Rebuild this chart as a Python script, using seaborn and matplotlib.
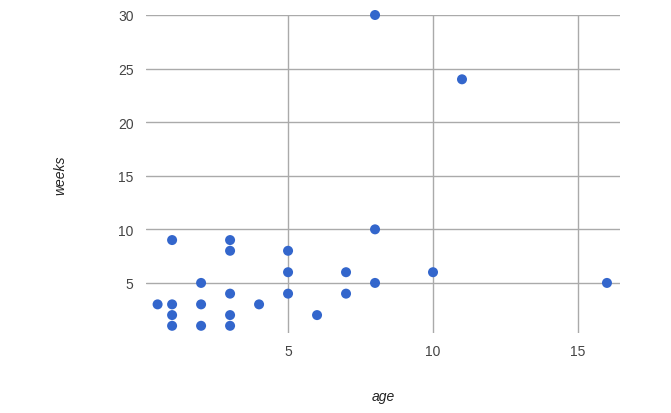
import matplotlib
matplotlib.use("Agg")
import matplotlib.pyplot as plt
import seaborn as sns
import pandas as pd

age = [1, 3, 3, 5, 5, 2, 3, 5, 0.5, 1, 2, 4, 1, 3, 6, 1, 2, 3,
       8, 7, 10, 8, 16, 7, 8, 11]
weeks = [9, 9, 8, 8, 6, 5, 4, 4, 3, 3, 3, 3, 2, 2, 2, 1, 1, 1,
         10, 6, 6, 5, 5, 4, 30, 24]
x_ticks = [5, 10, 15]
y_ticks = [5, 10, 15, 20, 25, 30]

df = pd.DataFrame({"age": age, "weeks": weeks})

sns.set_theme(style="white")
plt.rcParams['font.family'] = ['Liberation Sans', 'DejaVu Sans']

fig = plt.figure(figsize=(6.71, 4.14), dpi=100)
ax = fig.add_axes([146/671, 1-334.3/414, (620-146)/671, (334.3-16)/414])

sns.scatterplot(data=df, x="age", y="weeks", ax=ax, s=52, color="#3366cc",
                edgecolor="none", zorder=3, clip_on=False)

ax.set_xlim(0.1, 16.45)
ax.set_ylim(0.3, 30)
ax.set_xticks(x_ticks)
ax.set_yticks(y_ticks)
ax.grid(True, color="#aaaaaa", linewidth=1)
ax.set_axisbelow(True)
for s in ax.spines.values():
    s.set_visible(False)
ax.tick_params(axis="both", length=0, labelsize=10, labelcolor="#444444")
ax.tick_params(axis="y", pad=9)
ax.tick_params(axis="x", pad=8)

ax.set_xlabel("age", fontstyle="italic", fontsize=10, color="#222222")
ax.set_ylabel("weeks", fontstyle="italic", fontsize=10, color="#222222")
ax.xaxis.set_label_coords(0.5, -(397-334.3)/318.3)
ax.yaxis.set_label_coords(-(146-60)/474, 0.5)
ax.xaxis.label.set_va("center")
ax.yaxis.label.set_va("center")

fig.savefig("out.png", dpi=100)
